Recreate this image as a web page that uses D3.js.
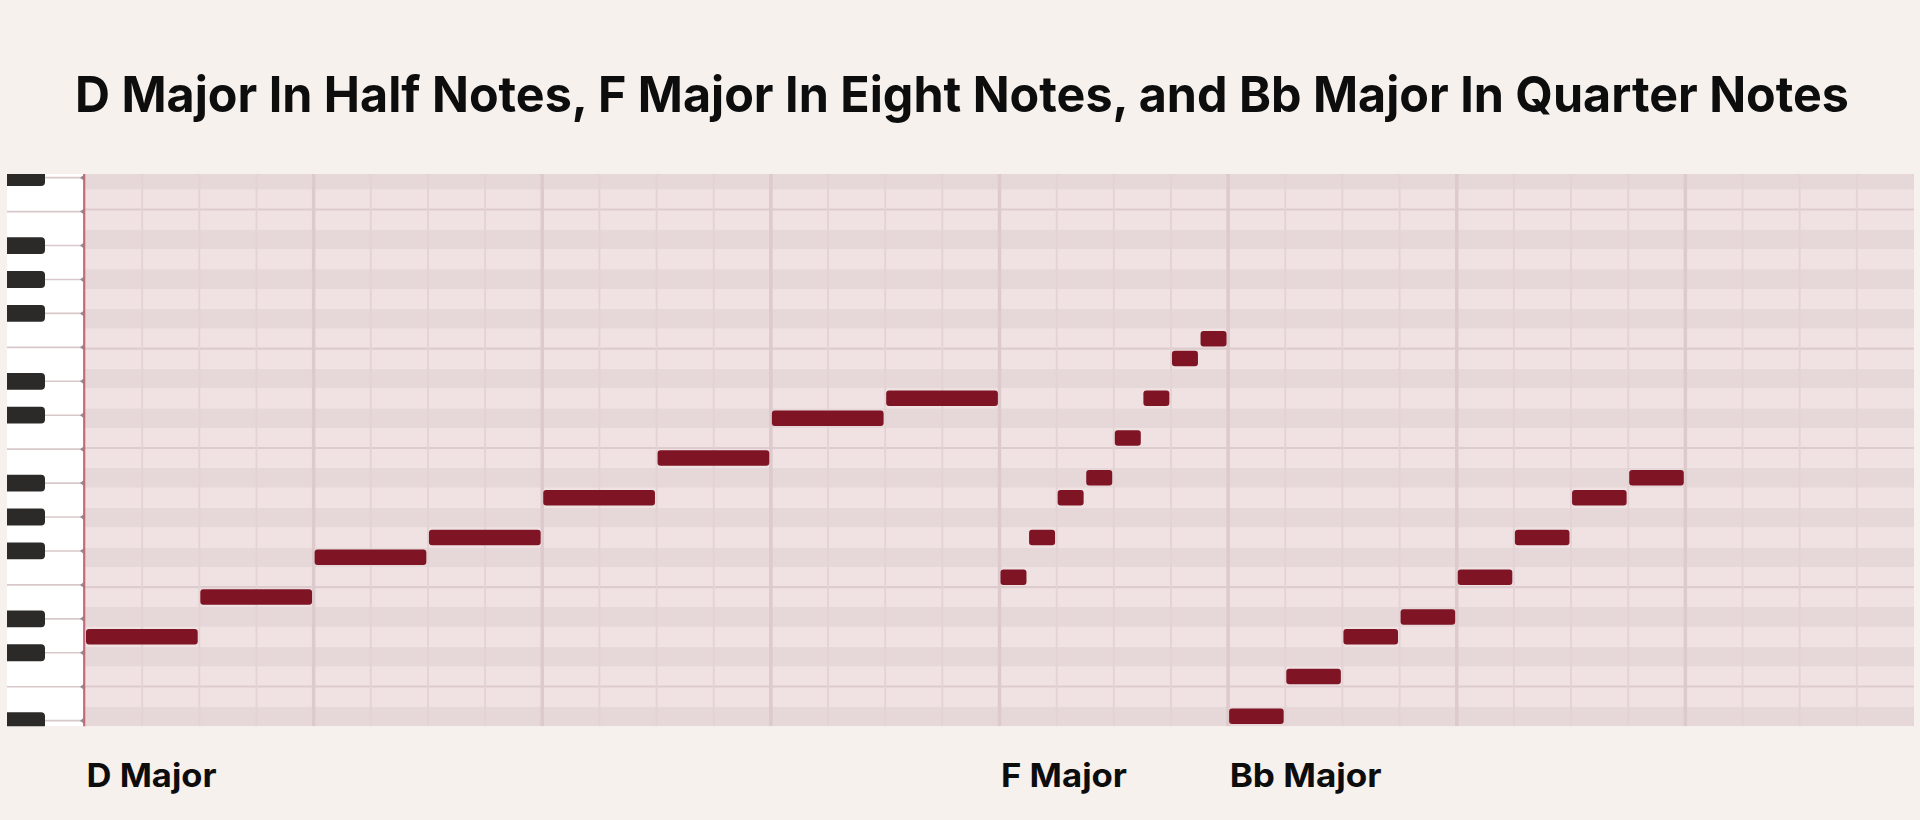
<!DOCTYPE html>
<html><head><meta charset="utf-8">
<script src="https://cdn.jsdelivr.net/npm/d3@7"></script>
<style>html,body{margin:0;padding:0;background:#f6f1ed;} svg{display:block}</style>
</head><body>
<svg id="chart" width="1920" height="820"></svg>
<script>
// ---- data ----
const titleText = "D Major In Half Notes, F Major In Eight Notes, and Bb Major In Quarter Notes";
const scaleNames = ["D Major", "F Major", "Bb Major"];
const dMajorPitches = [62, 64, 66, 67, 69, 71, 73, 74];   // D4 .. D5
const fMajorPitches = [65, 67, 69, 70, 72, 74, 76, 77];   // F4 .. F5
const bbMajorPitches = [58, 60, 62, 63, 65, 67, 69, 70];  // Bb3 .. Bb4
const noteLengths = [2, 0.5, 1];                          // in quarter-note columns
const pitchDomain = [58, 86];                             // lowest row .. top of highest row
const beatCount = 32;

const scalePitches = [dMajorPitches, fMajorPitches, bbMajorPitches];
const notes = [];
const scaleStarts = [];
let t = 0;
scalePitches.forEach((ps, i) => {
  scaleStarts.push(t);
  ps.forEach(p => { notes.push({ p, t, d: noteLengths[i] }); t += noteLengths[i]; });
});

// ---- layout ----
const W = 1920, H = 820;
const gridLeft = 85, gridRight = 1914, gridTop = 174, gridBottom = 726.25, rowTopAll = 169.75;
const x = d3.scaleLinear().domain([0, beatCount]).range([gridLeft, gridRight]);
const y = d3.scaleLinear().domain(pitchDomain).range([gridBottom, rowTopAll]);
const isBlack = p => [1, 3, 6, 8, 10].includes(((p % 12) + 12) % 12);

const svg = d3.select("#chart");
const defs = svg.append("defs");
defs.append("clipPath").attr("id", "gridClip").append("rect")
  .attr("x", gridLeft).attr("y", gridTop).attr("width", gridRight - gridLeft).attr("height", gridBottom - gridTop);
defs.append("clipPath").attr("id", "keyClip").append("rect")
  .attr("x", 7).attr("y", gridTop).attr("width", gridLeft - 7).attr("height", gridBottom - gridTop);

svg.append("rect").attr("width", W).attr("height", H).attr("fill", "#f6f1ed");

// title
svg.append("text")
  .attr("x", 962).attr("y", 112)
  .attr("text-anchor", "middle")
  .attr("font-family", "Inter, 'Noto Sans', sans-serif")
  .attr("font-weight", 700).attr("font-size", 50)
  .attr("fill", "#0d0d0d")
  .attr("textLength", 1774).attr("lengthAdjust", "spacingAndGlyphs")
  .text(titleText);

// grid
const grid = svg.append("g").attr("clip-path", "url(#gridClip)");
const rows = d3.range(pitchDomain[0], pitchDomain[1]);
grid.selectAll("rect.row").data(rows).join("rect")
  .attr("class", "row")
  .attr("x", gridLeft).attr("width", gridRight - gridLeft)
  .attr("y", p => y(p + 1)).attr("height", p => y(p) - y(p + 1))
  .attr("fill", p => isBlack(p) ? "#e6d7d8" : "#f0e2e3");

grid.selectAll("line.hl").data(rows.filter(p => p % 12 === 0 || p % 12 === 5)).join("line")
  .attr("class", "hl")
  .attr("x1", gridLeft).attr("x2", gridRight)
  .attr("y1", p => y(p)).attr("y2", p => y(p))
  .attr("stroke", "#ddcccd").attr("stroke-width", 2.2);

grid.selectAll("line.vl").data(d3.range(1, beatCount)).join("line")
  .attr("class", "vl")
  .attr("x1", k => x(k)).attr("x2", k => x(k))
  .attr("y1", gridTop).attr("y2", gridBottom)
  .attr("stroke", k => k % 4 === 0 ? "#dccacc" : "#e4d3d5")
  .attr("stroke-width", k => k % 4 === 0 ? 3.5 : 2);

// notes
grid.selectAll("rect.note").data(notes).join("rect")
  .attr("class", "note")
  .attr("x", n => x(n.t) + 1)
  .attr("width", n => x(n.t + n.d) - x(n.t) - 2.6)
  .attr("y", n => y(n.p + 0.5) - 7.8)
  .attr("height", 15.6)
  .attr("rx", 3).attr("ry", 3)
  .attr("fill", "#7e1424");

// keyboard
const kb = svg.append("g").attr("clip-path", "url(#keyClip)");
kb.append("rect").attr("x", 7).attr("y", gridTop).attr("width", gridLeft - 7).attr("height", gridBottom - gridTop).attr("fill", "#ffffff");
const wk = (y(60) - y(84)) / 14 * 0.996;
const kbBase = y(60) + 0.2;
const bounds = d3.range(-2, 17).map(k => ({ k, yy: kbBase - k * wk, m: ((k % 7) + 7) % 7 }))
  .filter(b => b.yy > gridTop - 12 && b.yy < gridBottom + 12);
kb.selectAll("line.wk").data(bounds).join("line")
  .attr("class", "wk")
  .attr("x1", 7).attr("x2", gridLeft - 1)
  .attr("y1", b => b.yy).attr("y2", b => b.yy)
  .attr("stroke", "#d9c8ca").attr("stroke-width", 1.6);
kb.selectAll("path.mk").data(bounds).join("path")
  .attr("class", "mk")
  .attr("d", b => `M${gridLeft - 1},${b.yy - 3} L${gridLeft - 5},${b.yy} L${gridLeft - 1},${b.yy + 3} Z`)
  .attr("fill", "#958a8c");
kb.selectAll("rect.bk").data(bounds.filter(b => [1, 2, 4, 5, 6].includes(b.m))).join("rect")
  .attr("class", "bk")
  .attr("x", 0).attr("width", 45)
  .attr("y", b => b.yy - 8.4).attr("height", 16.8)
  .attr("rx", 4).attr("ry", 4)
  .attr("fill", "#2b2a29");

svg.append("line")
  .attr("x1", 84.2).attr("x2", 84.2).attr("y1", gridTop).attr("y2", gridBottom)
  .attr("stroke", "#c46a79").attr("stroke-width", 2.2);

// labels
const labelLens = [130, 126, 152];
svg.selectAll("text.lab").data(scaleNames).join("text")
  .attr("class", "lab")
  .attr("x", (d, i) => x(scaleStarts[i]) + 1.5)
  .attr("y", 786.5)
  .attr("font-family", "Inter, 'Noto Sans', sans-serif")
  .attr("font-weight", 700).attr("font-size", 33)
  .attr("fill", "#0d0d0d")
  .attr("textLength", (d, i) => labelLens[i]).attr("lengthAdjust", "spacingAndGlyphs")
  .text(d => d);
</script>
</body></html>
